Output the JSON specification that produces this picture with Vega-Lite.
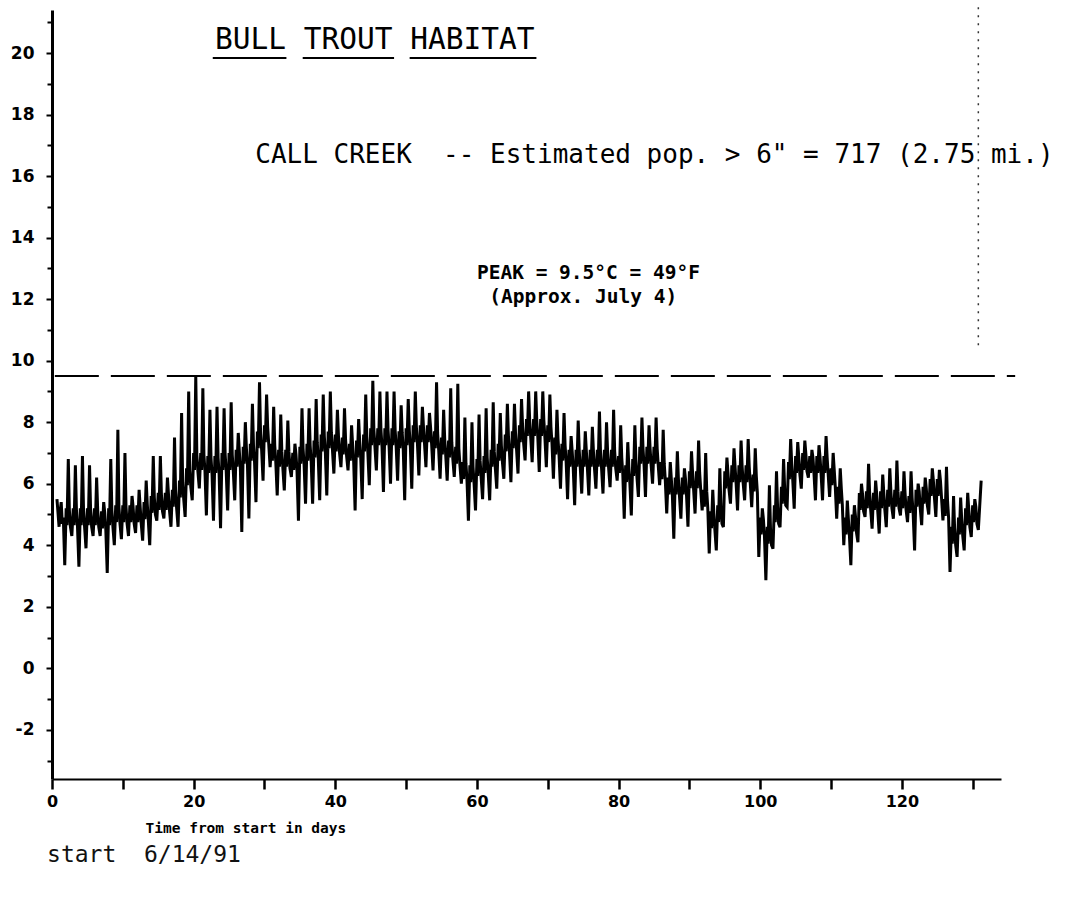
{
  "$schema": "https://vega.github.io/schema/vega-lite/v6.json",
  "width": 949,
  "height": 769,
  "autosize": {"type": "none"},
  "padding": {"left": 52, "top": 10, "right": 65, "bottom": 130},
  "background": "white",
  "config": {"view": {"stroke": null}, "font": "DejaVu Sans"},
  "data": {"values": [{}]},
  "resolve": {"axis": {"y": "independent"}},
  "layer": [
    {
      "data": {"values": [
        {"day":0.7,"temp":5.5},{"day":1,"temp":4.6},{"day":1.15,"temp":5.1},{"day":1.3,"temp":5.4},{"day":1.45,"temp":4.7},{"day":1.6,"temp":4.9},{"day":1.8,"temp":3.35},
        {"day":2,"temp":5.2},{"day":2.12,"temp":4.65},{"day":2.3,"temp":6.8},{"day":2.45,"temp":5.15},{"day":2.6,"temp":4.6},{"day":2.8,"temp":4.3},
        {"day":3,"temp":5.2},{"day":3.12,"temp":4.65},{"day":3.3,"temp":6.6},{"day":3.45,"temp":5.15},{"day":3.6,"temp":4.6},{"day":3.8,"temp":3.3},
        {"day":4,"temp":5.2},{"day":4.12,"temp":4.65},{"day":4.3,"temp":6.9},{"day":4.45,"temp":5.15},{"day":4.6,"temp":4.6},{"day":4.8,"temp":3.9},
        {"day":5,"temp":5.2},{"day":5.12,"temp":4.65},{"day":5.3,"temp":6.6},{"day":5.45,"temp":5.15},{"day":5.6,"temp":4.6},{"day":5.8,"temp":4.3},
        {"day":6,"temp":5.2},{"day":6.12,"temp":4.65},{"day":6.3,"temp":6.2},{"day":6.45,"temp":5.15},{"day":6.6,"temp":4.6},{"day":6.8,"temp":4.3},
        {"day":7,"temp":5.1},{"day":7.12,"temp":4.55},{"day":7.3,"temp":5.4},{"day":7.45,"temp":5.05},{"day":7.6,"temp":4.5},{"day":7.8,"temp":3.1},
        {"day":8,"temp":5.2},{"day":8.12,"temp":4.65},{"day":8.3,"temp":6.8},{"day":8.45,"temp":5.15},{"day":8.6,"temp":4.6},{"day":8.8,"temp":4.0},
        {"day":9,"temp":5.3},{"day":9.12,"temp":4.75},{"day":9.3,"temp":7.75},{"day":9.45,"temp":5.25},{"day":9.6,"temp":4.7},{"day":9.8,"temp":4.2},
        {"day":10,"temp":5.3},{"day":10.12,"temp":4.75},{"day":10.3,"temp":7.0},{"day":10.45,"temp":5.25},{"day":10.6,"temp":4.7},{"day":10.8,"temp":4.3},
        {"day":11,"temp":5.3},{"day":11.12,"temp":4.75},{"day":11.3,"temp":5.6},{"day":11.45,"temp":5.25},{"day":11.6,"temp":4.7},{"day":11.8,"temp":4.4},
        {"day":12,"temp":5.3},{"day":12.12,"temp":4.75},{"day":12.3,"temp":5.8},{"day":12.45,"temp":5.25},{"day":12.6,"temp":4.7},{"day":12.8,"temp":4.15},
        {"day":13,"temp":5.4},{"day":13.12,"temp":4.85},{"day":13.3,"temp":6.1},{"day":13.45,"temp":5.35},{"day":13.6,"temp":4.8},{"day":13.8,"temp":4.0},
        {"day":14,"temp":5.6},{"day":14.12,"temp":5.05},{"day":14.3,"temp":6.9},{"day":14.45,"temp":5.55},{"day":14.6,"temp":5.0},{"day":14.8,"temp":4.8},
        {"day":15,"temp":5.7},{"day":15.12,"temp":5.15},{"day":15.3,"temp":6.9},{"day":15.45,"temp":5.65},{"day":15.6,"temp":5.1},{"day":15.8,"temp":4.87},
        {"day":16,"temp":5.7},{"day":16.12,"temp":5.15},{"day":16.3,"temp":6.2},{"day":16.45,"temp":5.65},{"day":16.6,"temp":5.1},{"day":16.8,"temp":4.6},
        {"day":17,"temp":5.8},{"day":17.12,"temp":5.25},{"day":17.3,"temp":7.5},{"day":17.45,"temp":5.75},{"day":17.6,"temp":5.2},{"day":17.8,"temp":4.6},
        {"day":18,"temp":6.1},{"day":18.12,"temp":5.55},{"day":18.3,"temp":8.3},{"day":18.45,"temp":6.05},{"day":18.6,"temp":5.5},{"day":18.8,"temp":4.92},
        {"day":19,"temp":6.5},{"day":19.12,"temp":5.95},{"day":19.3,"temp":9.0},{"day":19.45,"temp":6.45},{"day":19.6,"temp":5.9},{"day":19.8,"temp":5.46},
        {"day":20,"temp":7.0},{"day":20.12,"temp":6.45},{"day":20.3,"temp":9.5},{"day":20.45,"temp":6.95},{"day":20.6,"temp":6.4},{"day":20.8,"temp":5.85},
        {"day":21,"temp":7.0},{"day":21.12,"temp":6.45},{"day":21.3,"temp":9.1},{"day":21.45,"temp":6.95},{"day":21.6,"temp":6.4},{"day":21.8,"temp":4.97},
        {"day":22,"temp":6.9},{"day":22.12,"temp":6.35},{"day":22.3,"temp":8.4},{"day":22.45,"temp":6.85},{"day":22.6,"temp":6.3},{"day":22.8,"temp":4.8},
        {"day":23,"temp":6.9},{"day":23.12,"temp":6.35},{"day":23.3,"temp":8.5},{"day":23.45,"temp":6.85},{"day":23.6,"temp":6.3},{"day":23.8,"temp":4.55},
        {"day":24,"temp":7.0},{"day":24.12,"temp":6.45},{"day":24.3,"temp":8.45},{"day":24.45,"temp":6.95},{"day":24.6,"temp":6.4},{"day":24.8,"temp":5.13},
        {"day":25,"temp":7.0},{"day":25.12,"temp":6.45},{"day":25.3,"temp":8.65},{"day":25.45,"temp":6.95},{"day":25.6,"temp":6.4},{"day":25.8,"temp":5.46},
        {"day":26,"temp":7.1},{"day":26.12,"temp":6.55},{"day":26.3,"temp":7.65},{"day":26.45,"temp":7.05},{"day":26.6,"temp":6.5},{"day":26.8,"temp":4.43},
        {"day":27,"temp":7.2},{"day":27.12,"temp":6.65},{"day":27.3,"temp":8.0},{"day":27.45,"temp":7.15},{"day":27.6,"temp":6.6},{"day":27.8,"temp":4.87},
        {"day":28,"temp":7.3},{"day":28.12,"temp":6.75},{"day":28.3,"temp":8.6},{"day":28.45,"temp":7.25},{"day":28.6,"temp":6.7},{"day":28.8,"temp":5.4},
        {"day":29,"temp":7.7},{"day":29.12,"temp":7.15},{"day":29.3,"temp":9.3},{"day":29.45,"temp":7.65},{"day":29.6,"temp":7.1},{"day":29.8,"temp":6.1},
        {"day":30,"temp":7.9},{"day":30.12,"temp":7.35},{"day":30.3,"temp":8.9},{"day":30.45,"temp":7.85},{"day":30.6,"temp":7.3},{"day":30.8,"temp":6.54},
        {"day":31,"temp":7.3},{"day":31.12,"temp":6.75},{"day":31.3,"temp":8.5},{"day":31.45,"temp":7.25},{"day":31.6,"temp":6.7},{"day":31.8,"temp":5.62},
        {"day":32,"temp":7.1},{"day":32.12,"temp":6.55},{"day":32.3,"temp":8.25},{"day":32.45,"temp":7.05},{"day":32.6,"temp":6.5},{"day":32.8,"temp":5.78},
        {"day":33,"temp":7.1},{"day":33.12,"temp":6.55},{"day":33.3,"temp":8.05},{"day":33.45,"temp":7.05},{"day":33.6,"temp":6.5},{"day":33.8,"temp":6.22},
        {"day":34,"temp":7.0},{"day":34.12,"temp":6.45},{"day":34.3,"temp":7.3},{"day":34.45,"temp":6.95},{"day":34.6,"temp":6.4},{"day":34.8,"temp":4.8},
        {"day":35,"temp":7.2},{"day":35.12,"temp":6.65},{"day":35.3,"temp":8.45},{"day":35.45,"temp":7.15},{"day":35.6,"temp":6.6},{"day":35.8,"temp":5.35},
        {"day":36,"temp":7.3},{"day":36.12,"temp":6.75},{"day":36.3,"temp":8.45},{"day":36.45,"temp":7.25},{"day":36.6,"temp":6.7},{"day":36.8,"temp":5.35},
        {"day":37,"temp":7.4},{"day":37.12,"temp":6.85},{"day":37.3,"temp":8.75},{"day":37.45,"temp":7.35},{"day":37.6,"temp":6.8},{"day":37.8,"temp":5.46},
        {"day":38,"temp":7.6},{"day":38.12,"temp":7.05},{"day":38.3,"temp":8.9},{"day":38.45,"temp":7.55},{"day":38.6,"temp":7.0},{"day":38.8,"temp":5.62},
        {"day":39,"temp":7.7},{"day":39.12,"temp":7.15},{"day":39.3,"temp":9.0},{"day":39.45,"temp":7.65},{"day":39.6,"temp":7.1},{"day":39.8,"temp":6.33},
        {"day":40,"temp":7.6},{"day":40.12,"temp":7.05},{"day":40.3,"temp":8.4},{"day":40.45,"temp":7.55},{"day":40.6,"temp":7.0},{"day":40.8,"temp":6.54},
        {"day":41,"temp":7.5},{"day":41.12,"temp":6.95},{"day":41.3,"temp":8.45},{"day":41.45,"temp":7.45},{"day":41.6,"temp":6.9},{"day":41.8,"temp":6.43},
        {"day":42,"temp":7.3},{"day":42.12,"temp":6.75},{"day":42.3,"temp":7.9},{"day":42.45,"temp":7.25},{"day":42.6,"temp":6.7},{"day":42.8,"temp":5.13},
        {"day":43,"temp":7.4},{"day":43.12,"temp":6.85},{"day":43.3,"temp":8.1},{"day":43.45,"temp":7.35},{"day":43.6,"temp":6.8},{"day":43.8,"temp":5.5},
        {"day":44,"temp":7.6},{"day":44.12,"temp":7.05},{"day":44.3,"temp":8.9},{"day":44.45,"temp":7.55},{"day":44.6,"temp":7.0},{"day":44.8,"temp":5.95},
        {"day":45,"temp":7.8},{"day":45.12,"temp":7.25},{"day":45.3,"temp":9.35},{"day":45.45,"temp":7.75},{"day":45.6,"temp":7.2},{"day":45.8,"temp":6.43},
        {"day":46,"temp":7.8},{"day":46.12,"temp":7.25},{"day":46.3,"temp":9.0},{"day":46.45,"temp":7.75},{"day":46.6,"temp":7.2},{"day":46.8,"temp":5.73},
        {"day":47,"temp":7.8},{"day":47.12,"temp":7.25},{"day":47.3,"temp":9.0},{"day":47.45,"temp":7.75},{"day":47.6,"temp":7.2},{"day":47.8,"temp":6.0},
        {"day":48,"temp":7.8},{"day":48.12,"temp":7.25},{"day":48.3,"temp":9.0},{"day":48.45,"temp":7.75},{"day":48.6,"temp":7.2},{"day":48.8,"temp":6.1},
        {"day":49,"temp":7.7},{"day":49.12,"temp":7.15},{"day":49.3,"temp":8.55},{"day":49.45,"temp":7.65},{"day":49.6,"temp":7.1},{"day":49.8,"temp":5.46},
        {"day":50,"temp":7.8},{"day":50.12,"temp":7.25},{"day":50.3,"temp":8.75},{"day":50.45,"temp":7.75},{"day":50.6,"temp":7.2},{"day":50.8,"temp":5.84},
        {"day":51,"temp":7.9},{"day":51.12,"temp":7.35},{"day":51.3,"temp":9.0},{"day":51.45,"temp":7.85},{"day":51.6,"temp":7.3},{"day":51.8,"temp":6.27},
        {"day":52,"temp":7.9},{"day":52.12,"temp":7.35},{"day":52.3,"temp":8.5},{"day":52.45,"temp":7.85},{"day":52.6,"temp":7.3},{"day":52.8,"temp":6.54},
        {"day":53,"temp":7.9},{"day":53.12,"temp":7.35},{"day":53.3,"temp":8.3},{"day":53.45,"temp":7.85},{"day":53.6,"temp":7.3},{"day":53.8,"temp":6.43},
        {"day":54,"temp":7.7},{"day":54.12,"temp":7.15},{"day":54.3,"temp":9.3},{"day":54.45,"temp":7.65},{"day":54.6,"temp":7.1},{"day":54.8,"temp":6.16},
        {"day":55,"temp":7.5},{"day":55.12,"temp":6.95},{"day":55.3,"temp":8.4},{"day":55.45,"temp":7.45},{"day":55.6,"temp":6.9},{"day":55.8,"temp":6.1},
        {"day":56,"temp":7.4},{"day":56.12,"temp":6.85},{"day":56.3,"temp":9.1},{"day":56.45,"temp":7.35},{"day":56.6,"temp":6.8},{"day":56.8,"temp":6.22},
        {"day":57,"temp":7.2},{"day":57.12,"temp":6.65},{"day":57.3,"temp":9.25},{"day":57.45,"temp":7.15},{"day":57.6,"temp":6.6},{"day":57.8,"temp":6.0},
        {"day":58,"temp":6.7},{"day":58.12,"temp":6.15},{"day":58.3,"temp":8.15},{"day":58.45,"temp":6.65},{"day":58.6,"temp":6.1},{"day":58.8,"temp":4.8},
        {"day":59,"temp":6.6},{"day":59.12,"temp":6.05},{"day":59.3,"temp":8.0},{"day":59.45,"temp":6.55},{"day":59.6,"temp":6.0},{"day":59.8,"temp":5.13},
        {"day":60,"temp":6.8},{"day":60.12,"temp":6.25},{"day":60.3,"temp":8.25},{"day":60.45,"temp":6.75},{"day":60.6,"temp":6.2},{"day":60.8,"temp":5.5},
        {"day":61,"temp":6.9},{"day":61.12,"temp":6.35},{"day":61.3,"temp":8.45},{"day":61.45,"temp":6.85},{"day":61.6,"temp":6.3},{"day":61.8,"temp":5.46},
        {"day":62,"temp":7.1},{"day":62.12,"temp":6.55},{"day":62.3,"temp":8.65},{"day":62.45,"temp":7.05},{"day":62.6,"temp":6.5},{"day":62.8,"temp":5.84},
        {"day":63,"temp":7.3},{"day":63.12,"temp":6.75},{"day":63.3,"temp":8.3},{"day":63.45,"temp":7.25},{"day":63.6,"temp":6.7},{"day":63.8,"temp":6.16},
        {"day":64,"temp":7.6},{"day":64.12,"temp":7.05},{"day":64.3,"temp":8.6},{"day":64.45,"temp":7.55},{"day":64.6,"temp":7.0},{"day":64.8,"temp":6.05},
        {"day":65,"temp":7.7},{"day":65.12,"temp":7.15},{"day":65.3,"temp":8.6},{"day":65.45,"temp":7.65},{"day":65.6,"temp":7.1},{"day":65.8,"temp":6.33},
        {"day":66,"temp":7.9},{"day":66.12,"temp":7.35},{"day":66.3,"temp":8.75},{"day":66.45,"temp":7.85},{"day":66.6,"temp":7.3},{"day":66.8,"temp":6.76},
        {"day":67,"temp":8.1},{"day":67.12,"temp":7.55},{"day":67.3,"temp":9.0},{"day":67.45,"temp":8.05},{"day":67.6,"temp":7.5},{"day":67.8,"temp":6.7},
        {"day":68,"temp":8.1},{"day":68.12,"temp":7.55},{"day":68.3,"temp":9.0},{"day":68.45,"temp":8.05},{"day":68.6,"temp":7.5},{"day":68.8,"temp":6.38},
        {"day":69,"temp":8.1},{"day":69.12,"temp":7.55},{"day":69.3,"temp":9.0},{"day":69.45,"temp":8.05},{"day":69.6,"temp":7.5},{"day":69.8,"temp":6.54},
        {"day":70,"temp":7.9},{"day":70.12,"temp":7.35},{"day":70.3,"temp":8.9},{"day":70.45,"temp":7.85},{"day":70.6,"temp":7.3},{"day":70.8,"temp":6.16},
        {"day":71,"temp":7.5},{"day":71.12,"temp":6.95},{"day":71.3,"temp":8.4},{"day":71.45,"temp":7.45},{"day":71.6,"temp":6.9},{"day":71.8,"temp":5.84},
        {"day":72,"temp":7.3},{"day":72.12,"temp":6.75},{"day":72.3,"temp":8.3},{"day":72.45,"temp":7.25},{"day":72.6,"temp":6.7},{"day":72.8,"temp":5.5},
        {"day":73,"temp":7.1},{"day":73.12,"temp":6.55},{"day":73.3,"temp":7.55},{"day":73.45,"temp":7.05},{"day":73.6,"temp":6.5},{"day":73.8,"temp":5.3},
        {"day":74,"temp":7.1},{"day":74.12,"temp":6.55},{"day":74.3,"temp":8.05},{"day":74.45,"temp":7.05},{"day":74.6,"temp":6.5},{"day":74.8,"temp":5.68},
        {"day":75,"temp":7.1},{"day":75.12,"temp":6.55},{"day":75.3,"temp":7.7},{"day":75.45,"temp":7.05},{"day":75.6,"temp":6.5},{"day":75.8,"temp":5.62},
        {"day":76,"temp":7.1},{"day":76.12,"temp":6.55},{"day":76.3,"temp":7.85},{"day":76.45,"temp":7.05},{"day":76.6,"temp":6.5},{"day":76.8,"temp":5.84},
        {"day":77,"temp":7.1},{"day":77.12,"temp":6.55},{"day":77.3,"temp":8.35},{"day":77.45,"temp":7.05},{"day":77.6,"temp":6.5},{"day":77.8,"temp":5.68},
        {"day":78,"temp":7.1},{"day":78.12,"temp":6.55},{"day":78.3,"temp":8.0},{"day":78.45,"temp":7.05},{"day":78.6,"temp":6.5},{"day":78.8,"temp":5.89},
        {"day":79,"temp":7.1},{"day":79.12,"temp":6.55},{"day":79.3,"temp":8.4},{"day":79.45,"temp":7.05},{"day":79.6,"temp":6.5},{"day":79.8,"temp":6.1},
        {"day":80,"temp":6.9},{"day":80.12,"temp":6.35},{"day":80.3,"temp":7.9},{"day":80.45,"temp":6.85},{"day":80.6,"temp":6.3},{"day":80.8,"temp":4.86},
        {"day":81,"temp":6.6},{"day":81.12,"temp":6.05},{"day":81.3,"temp":7.35},{"day":81.45,"temp":6.55},{"day":81.6,"temp":6.0},{"day":81.8,"temp":4.97},
        {"day":82,"temp":6.8},{"day":82.12,"temp":6.25},{"day":82.3,"temp":7.9},{"day":82.45,"temp":6.75},{"day":82.6,"temp":6.2},{"day":82.8,"temp":5.57},
        {"day":83,"temp":7.2},{"day":83.12,"temp":6.65},{"day":83.3,"temp":8.15},{"day":83.45,"temp":7.15},{"day":83.6,"temp":6.6},{"day":83.8,"temp":5.57},
        {"day":84,"temp":7.2},{"day":84.12,"temp":6.65},{"day":84.3,"temp":7.9},{"day":84.45,"temp":7.15},{"day":84.6,"temp":6.6},{"day":84.8,"temp":6.0},
        {"day":85,"temp":7.2},{"day":85.12,"temp":6.65},{"day":85.3,"temp":8.15},{"day":85.45,"temp":7.15},{"day":85.6,"temp":6.6},{"day":85.8,"temp":5.95},
        {"day":86,"temp":6.7},{"day":86.12,"temp":6.15},{"day":86.3,"temp":7.75},{"day":86.45,"temp":6.65},{"day":86.6,"temp":6.1},{"day":86.8,"temp":5.03},
        {"day":87,"temp":6.2},{"day":87.12,"temp":5.65},{"day":87.3,"temp":6.7},{"day":87.45,"temp":6.15},{"day":87.6,"temp":5.6},{"day":87.8,"temp":4.21},
        {"day":88,"temp":6.2},{"day":88.12,"temp":5.65},{"day":88.3,"temp":7.05},{"day":88.45,"temp":6.15},{"day":88.6,"temp":5.6},{"day":88.8,"temp":4.86},
        {"day":89,"temp":6.2},{"day":89.12,"temp":5.65},{"day":89.3,"temp":6.5},{"day":89.45,"temp":6.15},{"day":89.6,"temp":5.6},{"day":89.8,"temp":4.6},
        {"day":90,"temp":6.4},{"day":90.12,"temp":5.85},{"day":90.3,"temp":7.05},{"day":90.45,"temp":6.35},{"day":90.6,"temp":5.8},{"day":90.8,"temp":5.03},
        {"day":91,"temp":6.4},{"day":91.12,"temp":5.85},{"day":91.3,"temp":7.4},{"day":91.45,"temp":6.35},{"day":91.6,"temp":5.8},{"day":91.8,"temp":5.13},
        {"day":92,"temp":5.8},{"day":92.12,"temp":5.25},{"day":92.3,"temp":7.0},{"day":92.45,"temp":5.75},{"day":92.6,"temp":5.2},{"day":92.8,"temp":3.73},
        {"day":93,"temp":5.1},{"day":93.12,"temp":4.55},{"day":93.3,"temp":5.8},{"day":93.45,"temp":5.05},{"day":93.6,"temp":4.5},{"day":93.8,"temp":3.83},
        {"day":94,"temp":5.3},{"day":94.12,"temp":4.75},{"day":94.3,"temp":6.5},{"day":94.45,"temp":5.25},{"day":94.6,"temp":4.7},{"day":94.8,"temp":4.59},
        {"day":95,"temp":6.4},{"day":95.12,"temp":5.85},{"day":95.3,"temp":6.85},{"day":95.45,"temp":6.35},{"day":95.6,"temp":5.8},{"day":95.8,"temp":5.35},
        {"day":96,"temp":6.6},{"day":96.12,"temp":6.05},{"day":96.3,"temp":7.15},{"day":96.45,"temp":6.55},{"day":96.6,"temp":6.0},{"day":96.8,"temp":5.13},
        {"day":97,"temp":6.6},{"day":97.12,"temp":6.05},{"day":97.3,"temp":7.4},{"day":97.45,"temp":6.55},{"day":97.6,"temp":6.0},{"day":97.8,"temp":5.46},
        {"day":98,"temp":6.6},{"day":98.12,"temp":6.05},{"day":98.3,"temp":7.45},{"day":98.45,"temp":6.55},{"day":98.6,"temp":6.0},{"day":98.8,"temp":5.24},
        {"day":99,"temp":6.3},{"day":99.12,"temp":5.75},{"day":99.3,"temp":7.15},{"day":99.45,"temp":6.25},{"day":99.6,"temp":5.7},{"day":99.8,"temp":3.62},
        {"day":100,"temp":4.9},{"day":100.12,"temp":4.35},{"day":100.3,"temp":5.2},{"day":100.45,"temp":4.85},{"day":100.6,"temp":4.3},{"day":100.8,"temp":2.86},
        {"day":101,"temp":4.6},{"day":101.12,"temp":4.05},{"day":101.3,"temp":5.95},{"day":101.45,"temp":4.55},{"day":101.6,"temp":4.0},{"day":101.8,"temp":3.89},
        {"day":102,"temp":5.3},{"day":102.12,"temp":4.75},{"day":102.3,"temp":6.4},{"day":102.45,"temp":5.25},{"day":102.6,"temp":4.7},{"day":102.8,"temp":4.59},
        {"day":103,"temp":5.9},{"day":103.12,"temp":5.35},{"day":103.3,"temp":6.8},{"day":103.45,"temp":5.85},{"day":103.6,"temp":5.3},{"day":103.8,"temp":5.24},
        {"day":104,"temp":6.7},{"day":104.12,"temp":6.15},{"day":104.3,"temp":7.45},{"day":104.45,"temp":6.65},{"day":104.6,"temp":6.1},{"day":104.8,"temp":5.19},
        {"day":105,"temp":6.9},{"day":105.12,"temp":6.35},{"day":105.3,"temp":7.35},{"day":105.45,"temp":6.85},{"day":105.6,"temp":6.3},{"day":105.8,"temp":5.84},
        {"day":106,"temp":7.0},{"day":106.12,"temp":6.45},{"day":106.3,"temp":7.4},{"day":106.45,"temp":6.95},{"day":106.6,"temp":6.4},{"day":106.8,"temp":6.2},
        {"day":107,"temp":6.9},{"day":107.12,"temp":6.35},{"day":107.3,"temp":7.1},{"day":107.45,"temp":6.85},{"day":107.6,"temp":6.3},{"day":107.8,"temp":5.46},
        {"day":108,"temp":6.9},{"day":108.12,"temp":6.35},{"day":108.3,"temp":7.25},{"day":108.45,"temp":6.85},{"day":108.6,"temp":6.3},{"day":108.8,"temp":5.46},
        {"day":109,"temp":6.9},{"day":109.12,"temp":6.35},{"day":109.3,"temp":7.55},{"day":109.45,"temp":6.85},{"day":109.6,"temp":6.3},{"day":109.8,"temp":5.57},
        {"day":110,"temp":6.5},{"day":110.12,"temp":5.95},{"day":110.3,"temp":7.0},{"day":110.45,"temp":6.45},{"day":110.6,"temp":5.9},{"day":110.8,"temp":4.86},
        {"day":111,"temp":5.9},{"day":111.12,"temp":5.35},{"day":111.3,"temp":6.5},{"day":111.45,"temp":5.85},{"day":111.6,"temp":5.3},{"day":111.8,"temp":4.0},
        {"day":112,"temp":4.9},{"day":112.12,"temp":4.35},{"day":112.3,"temp":5.45},{"day":112.45,"temp":4.85},{"day":112.6,"temp":4.3},{"day":112.8,"temp":3.35},
        {"day":113,"temp":5.0},{"day":113.12,"temp":4.45},{"day":113.3,"temp":5.3},{"day":113.45,"temp":4.95},{"day":113.6,"temp":4.4},{"day":113.8,"temp":4.1},
        {"day":114,"temp":5.7},{"day":114.12,"temp":5.15},{"day":114.3,"temp":6.0},{"day":114.45,"temp":5.65},{"day":114.6,"temp":5.1},{"day":114.8,"temp":4.92},
        {"day":115,"temp":5.75},{"day":115.12,"temp":5.2},{"day":115.3,"temp":6.65},{"day":115.45,"temp":5.7},{"day":115.6,"temp":5.15},{"day":115.8,"temp":4.54},
        {"day":116,"temp":5.7},{"day":116.12,"temp":5.15},{"day":116.3,"temp":6.1},{"day":116.45,"temp":5.65},{"day":116.6,"temp":5.1},{"day":116.8,"temp":4.38},
        {"day":117,"temp":5.75},{"day":117.12,"temp":5.2},{"day":117.3,"temp":6.3},{"day":117.45,"temp":5.7},{"day":117.6,"temp":5.15},{"day":117.8,"temp":4.59},
        {"day":118,"temp":5.8},{"day":118.12,"temp":5.25},{"day":118.3,"temp":6.5},{"day":118.45,"temp":5.75},{"day":118.6,"temp":5.2},{"day":118.8,"temp":4.86},
        {"day":119,"temp":5.8},{"day":119.12,"temp":5.25},{"day":119.3,"temp":6.75},{"day":119.45,"temp":5.75},{"day":119.6,"temp":5.2},{"day":119.8,"temp":4.97},
        {"day":120,"temp":5.75},{"day":120.12,"temp":5.2},{"day":120.3,"temp":6.4},{"day":120.45,"temp":5.7},{"day":120.6,"temp":5.15},{"day":120.8,"temp":4.75},
        {"day":121,"temp":5.6},{"day":121.12,"temp":5.05},{"day":121.3,"temp":6.4},{"day":121.45,"temp":5.55},{"day":121.6,"temp":5.0},{"day":121.8,"temp":3.83},
        {"day":122,"temp":5.8},{"day":122.12,"temp":5.25},{"day":122.3,"temp":6.0},{"day":122.45,"temp":5.75},{"day":122.6,"temp":5.2},{"day":122.8,"temp":4.65},
        {"day":123,"temp":5.9},{"day":123.12,"temp":5.35},{"day":123.3,"temp":6.2},{"day":123.45,"temp":5.85},{"day":123.6,"temp":5.3},{"day":123.8,"temp":5.0},
        {"day":124,"temp":6.15},{"day":124.12,"temp":5.6},{"day":124.3,"temp":6.5},{"day":124.45,"temp":6.1},{"day":124.6,"temp":5.55},{"day":124.8,"temp":4.92},
        {"day":125,"temp":6.15},{"day":125.12,"temp":5.6},{"day":125.3,"temp":6.45},{"day":125.45,"temp":6.1},{"day":125.6,"temp":5.55},{"day":125.8,"temp":4.81},
        {"day":126,"temp":5.5},{"day":126.12,"temp":4.95},{"day":126.3,"temp":6.55},{"day":126.45,"temp":5.45},{"day":126.6,"temp":4.9},{"day":126.8,"temp":3.13},
        {"day":127,"temp":4.6},{"day":127.12,"temp":4.05},{"day":127.3,"temp":5.6},{"day":127.45,"temp":4.55},{"day":127.6,"temp":4.0},{"day":127.8,"temp":3.62},
        {"day":128,"temp":4.9},{"day":128.12,"temp":4.35},{"day":128.3,"temp":5.55},{"day":128.45,"temp":4.85},{"day":128.6,"temp":4.3},{"day":128.8,"temp":3.83},
        {"day":129,"temp":5.2},{"day":129.12,"temp":4.65},{"day":129.3,"temp":5.7},{"day":129.45,"temp":5.15},{"day":129.6,"temp":4.6},{"day":129.8,"temp":4.27},
        {"day":130,"temp":5.3},{"day":130.12,"temp":4.75},{"day":130.3,"temp":5.5},{"day":130.45,"temp":5.25},{"day":130.6,"temp":4.7},{"day":130.8,"temp":4.5},
        {"day":131.2,"temp":6.1}
      ]},
      "mark": {"type": "line", "color": "black", "strokeWidth": 3},
      "encoding": {
        "x": {
          "field": "day", "type": "quantitative",
          "scale": {"domain": [0, 134], "nice": false, "zero": false},
          "axis": {
            "values": [0, 10, 20, 30, 40, 50, 60, 70, 80, 90, 100, 110, 120, 130],
            "labelExpr": "datum.value % 20 === 0 ? toString(datum.value) : ''",
            "grid": false,
            "domainColor": "black", "domainWidth": 2,
            "tickColor": "black", "tickSize": 10, "tickWidth": 2.5,
            "labelFont": "DejaVu Sans", "labelFontWeight": "bold", "labelFontSize": 16,
            "labelColor": "black", "labelPadding": 4, "labelFlush": false, "labelOverlap": false,
            "title": "Time from start in days",
            "titleFont": "DejaVu Sans Mono", "titleFontWeight": "bold", "titleFontSize": 14.5,
            "titleColor": "black", "titleAnchor": "start", "titleAlign": "left",
            "titleX": 93, "titleY": 49, "titleBaseline": "middle"
          }
        },
        "y": {
          "field": "temp", "type": "quantitative",
          "scale": {"domain": [-3.6, 21.4], "nice": false, "zero": false},
          "axis": {
            "orient": "left",
            "values": [-2, 0, 2, 4, 6, 8, 10, 12, 14, 16, 18, 20],
            "labelExpr": "toString(datum.value)",
            "grid": false, "title": null,
            "domainColor": "black", "domainWidth": 3,
            "tickColor": "black", "tickSize": 6, "tickWidth": 2,
            "labelFont": "DejaVu Sans", "labelFontWeight": "bold", "labelFontSize": 17,
            "labelColor": "black", "labelPadding": 12, "labelFlush": false, "labelOverlap": false
          }
        }
      }
    },
    {
      "mark": {"type": "rule", "color": "black", "strokeWidth": 2, "strokeDash": [44, 12]},
      "encoding": {
        "x": {"datum": 0.4},
        "x2": {"datum": 136},
        "y": {
          "datum": 9.5,
          "axis": {
            "orient": "left",
            "values": [-3, -1, 1, 3, 5, 7, 9, 11, 13, 15, 17, 19, 21],
            "labels": false, "domain": false, "grid": false, "title": null,
            "tickColor": "black", "tickSize": 5, "tickWidth": 2, "offset": 0
          }
        }
      }
    },
    {
      "mark": {"type": "rule", "color": "#333", "strokeWidth": 1.5, "strokeDash": [2, 6]},
      "encoding": {"x": {"datum": 130.8}, "y": {"datum": 10.5, "axis": null}, "y2": {"datum": 21.5}}
    },
    {
      "mark": {"type": "text", "text": "BULL TROUT HABITAT", "align": "left", "baseline": "middle", "font": "DejaVu Sans Mono", "fontSize": 29.5, "color": "black"},
      "encoding": {"x": {"datum": 23.0}, "y": {"datum": 20.43, "axis": null}}
    },
    {
      "mark": {"type": "rule", "color": "black", "strokeWidth": 2},
      "encoding": {"x": {"datum": 22.7}, "x2": {"datum": 33.1}, "y": {"datum": 19.84, "axis": null}}
    },
    {
      "mark": {"type": "rule", "color": "black", "strokeWidth": 2},
      "encoding": {"x": {"datum": 35.4}, "x2": {"datum": 48.3}, "y": {"datum": 19.84, "axis": null}}
    },
    {
      "mark": {"type": "rule", "color": "black", "strokeWidth": 2},
      "encoding": {"x": {"datum": 50.5}, "x2": {"datum": 68.4}, "y": {"datum": 19.84, "axis": null}}
    },
    {
      "mark": {"type": "text", "text": "CALL CREEK\u00a0 -- Estimated pop. > 6\" = 717 (2.75 mi.)", "align": "left", "baseline": "middle", "font": "DejaVu Sans Mono", "fontSize": 26, "color": "black"},
      "encoding": {"x": {"datum": 28.7}, "y": {"datum": 16.69, "axis": null}}
    },
    {
      "mark": {"type": "text", "text": "PEAK = 9.5°C = 49°F", "align": "left", "baseline": "middle", "font": "DejaVu Sans Mono", "fontWeight": "bold", "fontSize": 19.5, "color": "black"},
      "encoding": {"x": {"datum": 60.0}, "y": {"datum": 12.86, "axis": null}}
    },
    {
      "mark": {"type": "text", "text": "(Approx. July 4)", "align": "left", "baseline": "middle", "font": "DejaVu Sans Mono", "fontWeight": "bold", "fontSize": 19.5, "color": "black"},
      "encoding": {"x": {"datum": 61.75}, "y": {"datum": 12.08, "axis": null}}
    },
    {
      "mark": {"type": "text", "text": "start\u00a0 6/14/91", "align": "left", "baseline": "middle", "font": "DejaVu Sans Mono", "fontSize": 23, "color": "#111"},
      "encoding": {"x": {"datum": -0.7}, "y": {"datum": -6.07, "axis": null}}
    }
  ]
}
